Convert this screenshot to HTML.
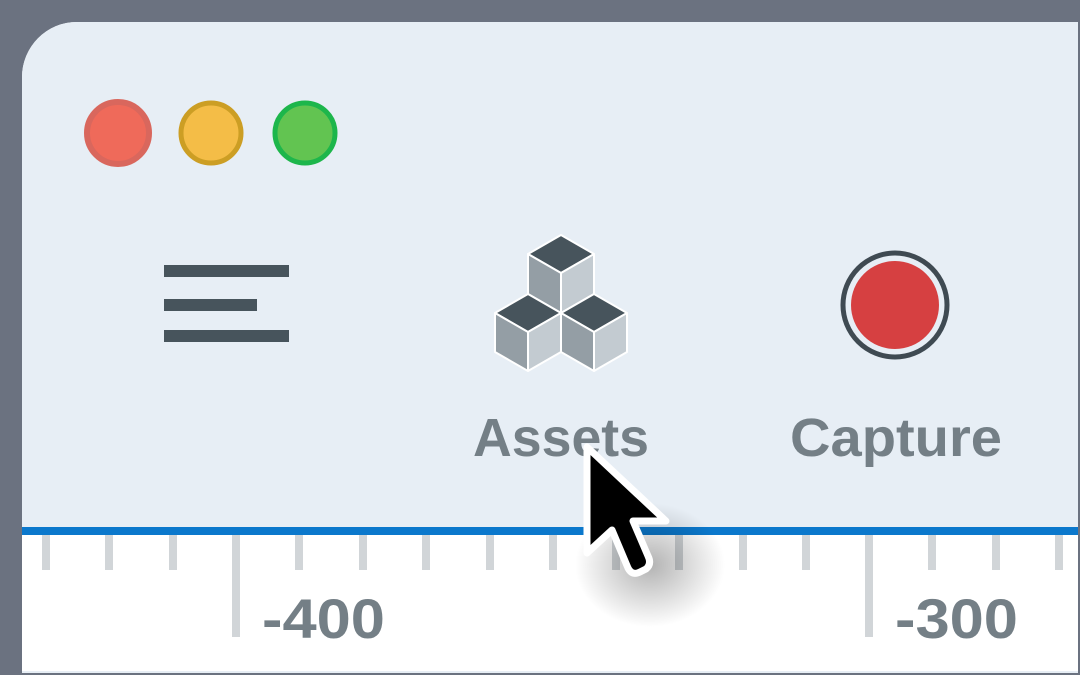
<!DOCTYPE html>
<html><head><meta charset="utf-8"><style>
html,body{margin:0;padding:0;width:1080px;height:675px;overflow:hidden;background:#6b7280}
svg{display:block}
text{font-family:"Liberation Sans",sans-serif;fill:#747f86}
</style></head><body>
<svg width="1080" height="675" viewBox="0 0 1080 675" xmlns="http://www.w3.org/2000/svg">
<defs>
<radialGradient id="sh" cx="0.5" cy="0.5" r="0.5">
<stop offset="0" stop-color="#000" stop-opacity="0.3"/>
<stop offset="1" stop-color="#000" stop-opacity="0"/>
</radialGradient>
</defs>
<rect width="1080" height="675" fill="#6b7280"/>
<path d="M22,77 A55,55 0 0 1 77,22 L1078,22 L1078,672 L22,672 Z" fill="#ffffff"/>
<path d="M22,77 A55,55 0 0 1 77,22 L1078,22 L1078,527 L22,527 Z" fill="#e7eef5"/>
<rect x="22" y="671" width="1056" height="2" fill="#e7eef5"/>
<rect x="22" y="527" width="1056" height="8" fill="#0b78cc"/>
<g fill="#d1d5d8">
<rect x="42" y="535" width="8" height="35"/>
<rect x="105" y="535" width="8" height="35"/>
<rect x="169" y="535" width="8" height="35"/>
<rect x="232" y="535" width="8" height="102"/>
<rect x="295" y="535" width="8" height="35"/>
<rect x="359" y="535" width="8" height="35"/>
<rect x="422" y="535" width="8" height="35"/>
<rect x="486" y="535" width="8" height="35"/>
<rect x="549" y="535" width="8" height="35"/>
<rect x="612" y="535" width="8" height="35"/>
<rect x="675" y="535" width="8" height="35"/>
<rect x="739" y="535" width="8" height="35"/>
<rect x="802" y="535" width="8" height="35"/>
<rect x="865" y="535" width="8" height="102"/>
<rect x="928" y="535" width="8" height="35"/>
<rect x="992" y="535" width="8" height="35"/>
<rect x="1055" y="535" width="8" height="35"/>
</g>
<text x="262" y="638" font-size="56" font-weight="bold" textLength="123" lengthAdjust="spacingAndGlyphs">-400</text>
<text x="895" y="638" font-size="56" font-weight="bold" textLength="123" lengthAdjust="spacingAndGlyphs">-300</text>

<circle cx="118" cy="133" r="31" fill="#ef6a5a" stroke="#d9675d" stroke-width="6"/>
<circle cx="211" cy="133" r="30" fill="#f4bd47" stroke="#cc9e24" stroke-width="5"/>
<circle cx="305" cy="133" r="30" fill="#62c451" stroke="#1db64b" stroke-width="5"/>

<g fill="#47545c">
<rect x="164" y="265" width="125" height="12"/>
<rect x="164" y="299" width="93" height="12"/>
<rect x="164" y="330" width="125" height="12"/>
</g>

<g stroke="#fff" stroke-width="2" stroke-linejoin="round">
<path d="M561,235 L594,254 L561,273 L528,254 Z" fill="#47545c"/>
<path d="M528,254 L561,273 L561,313 L528,294 Z" fill="#949ea5"/>
<path d="M561,273 L594,254 L594,294 L561,313 Z" fill="#c3cbd1"/>
<path d="M528,294 L561,313 L528,332 L495,313 Z" fill="#47545c"/>
<path d="M495,313 L528,332 L528,371 L495,352 Z" fill="#949ea5"/>
<path d="M528,332 L561,313 L561,352 L528,371 Z" fill="#c3cbd1"/>
<path d="M594,294 L627,313 L594,332 L561,313 Z" fill="#47545c"/>
<path d="M561,313 L594,332 L594,371 L561,352 Z" fill="#949ea5"/>
<path d="M594,332 L627,313 L627,352 L594,371 Z" fill="#c3cbd1"/>
</g>

<text x="473" y="456" font-size="54" font-weight="bold" textLength="176" lengthAdjust="spacingAndGlyphs">Assets</text>
<text x="790" y="456" font-size="54" font-weight="bold" textLength="212" lengthAdjust="spacingAndGlyphs">Capture</text>

<circle cx="895" cy="305" r="52" fill="none" stroke="#3f4a52" stroke-width="5"/>
<circle cx="895" cy="305" r="44" fill="#d64041"/>

<ellipse cx="650" cy="565" rx="75" ry="62" fill="url(#sh)"/>
<path d="M587,447 L587,553 L612,530 L628,568 Q632,576 640,572 L646,569 Q652,564 648,556 L633,521 L666,521 Z" fill="#000" stroke="#fff" stroke-width="7" stroke-linejoin="round"/>
</svg>
</body></html>
